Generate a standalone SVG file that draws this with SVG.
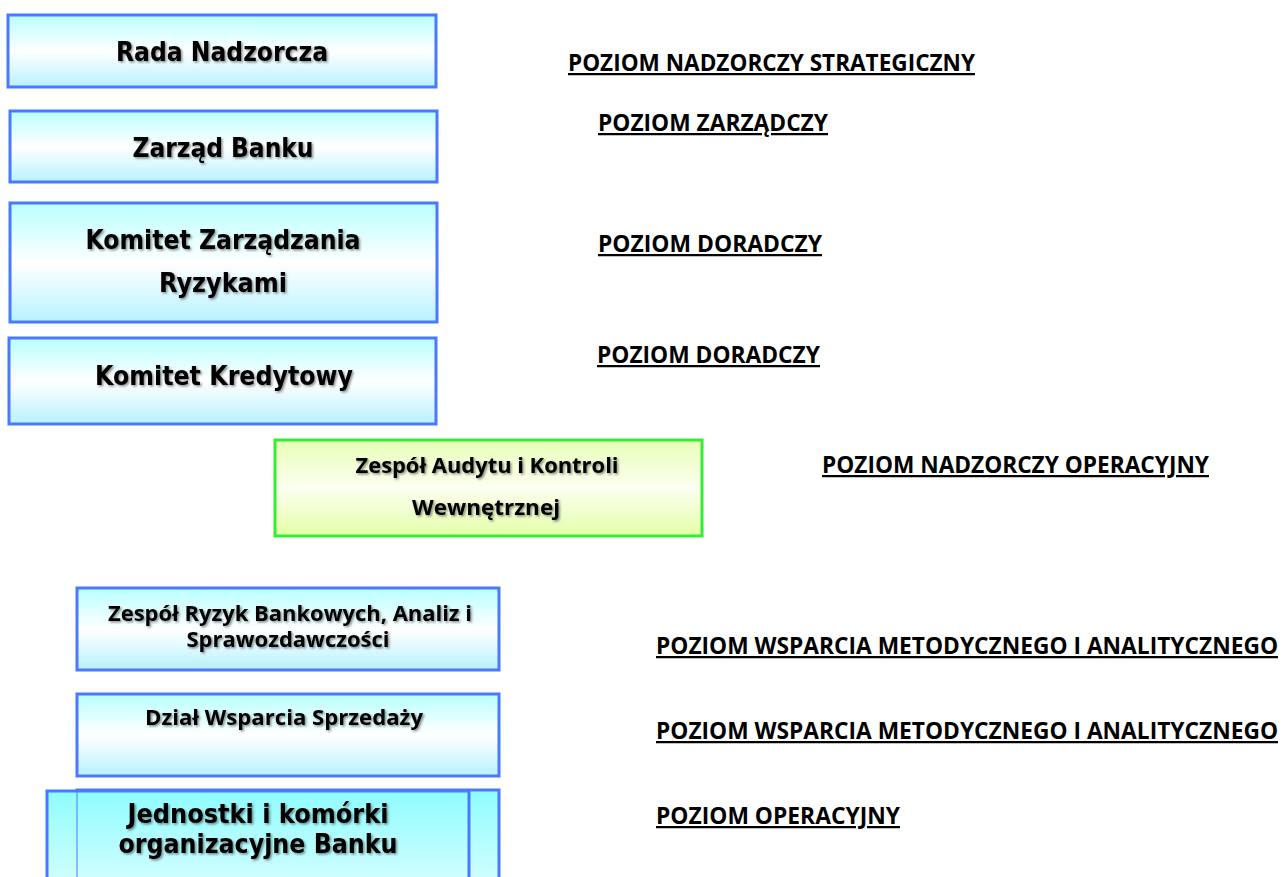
<svg xmlns="http://www.w3.org/2000/svg" width="1282" height="877" viewBox="0 0 1282 877">
<defs>
<linearGradient id="gb" x1="0" y1="0" x2="0" y2="1">
<stop offset="0" stop-color="#b8ffff"/>
<stop offset="0.5" stop-color="#ffffff"/>
<stop offset="1" stop-color="#b8f2ff"/>
</linearGradient>
<linearGradient id="gj" x1="0" y1="0" x2="0" y2="1">
<stop offset="0" stop-color="#8ffcff"/>
<stop offset="1" stop-color="#d8feff"/>
</linearGradient>
<linearGradient id="gg" x1="0" y1="0" x2="0" y2="1">
<stop offset="0" stop-color="#e8ffb8"/>
<stop offset="0.5" stop-color="#fcfff0"/>
<stop offset="1" stop-color="#e4ffa8"/>
</linearGradient>
<filter id="sh" x="-5%" y="-20%" width="110%" height="150%">
<feDropShadow dx="1.5" dy="1.5" stdDeviation="1" flood-color="#000" flood-opacity="0.45"/>
</filter>
</defs>
<style>
.bx{fill:url(#gb);stroke:#4a78ff;stroke-width:3}
.t1{font-family:"DejaVu Sans",Verdana,sans-serif;font-weight:bold;fill:#000;text-anchor:middle;font-size:26px}
.t2{font-family:"Open Sans","Liberation Sans",sans-serif;font-weight:bold;fill:#000;text-anchor:middle;font-size:21.5px}
.t3{font-family:"Open Sans","Liberation Sans",sans-serif;font-weight:bold;fill:#000;text-anchor:middle;font-size:22px}
.lb{font-family:"Open Sans","Liberation Sans",sans-serif;font-weight:bold;font-size:22.5px;fill:#000;text-decoration:underline}
</style>
<rect width="1282" height="877" fill="#fff"/>
<g id="n1">
<rect class="bx" x="8" y="15" width="428" height="72"/>
<text class="t1" x="222" y="61" textLength="212" lengthAdjust="spacingAndGlyphs" filter="url(#sh)">Rada Nadzorcza</text>
</g>
<g id="n2">
<rect class="bx" x="10" y="111" width="427" height="71"/>
<text class="t1" x="223" y="157" textLength="181" lengthAdjust="spacingAndGlyphs" filter="url(#sh)">Zarząd Banku</text>
</g>
<g id="n3">
<rect class="bx" x="10" y="203" width="427" height="119"/>
<text class="t1" x="223" y="249" textLength="275" lengthAdjust="spacingAndGlyphs" filter="url(#sh)">Komitet Zarządzania</text>
<text class="t1" x="223" y="292" textLength="128" lengthAdjust="spacingAndGlyphs" filter="url(#sh)">Ryzykami</text>
</g>
<g id="n4">
<rect class="bx" x="9" y="338" width="427" height="86"/>
<text class="t1" x="224" y="385" textLength="258" lengthAdjust="spacingAndGlyphs" filter="url(#sh)">Komitet Kredytowy</text>
</g>
<g id="n5">
<rect x="275" y="440" width="427" height="96" fill="url(#gg)" stroke="#33ee33" stroke-width="3"/>
<text class="t3" x="487" y="473" textLength="263" lengthAdjust="spacingAndGlyphs" filter="url(#sh)">Zespół Audytu i Kontroli</text>
<text class="t3" x="486" y="515" textLength="148" lengthAdjust="spacingAndGlyphs" filter="url(#sh)">Wewnętrznej</text>
</g>
<g id="n6">
<rect class="bx" x="77" y="588" width="422" height="82"/>
<text class="t2" x="290" y="621" textLength="364" lengthAdjust="spacingAndGlyphs" filter="url(#sh)">Zespół Ryzyk Bankowych, Analiz i</text>
<text class="t2" x="288" y="647" textLength="203" lengthAdjust="spacingAndGlyphs" filter="url(#sh)">Sprawozdawczości</text>
</g>
<g id="n7">
<rect class="bx" x="77" y="694" width="422" height="82"/>
<text class="t2" x="284" y="725" textLength="278" lengthAdjust="spacingAndGlyphs" filter="url(#sh)">Dział Wsparcia Sprzedaży</text>
</g>
<g id="n8">
<rect x="77" y="790" width="422" height="100" fill="url(#gj)" stroke="#4a78ff" stroke-width="3"/>
<rect x="47" y="791" width="422" height="100" fill="url(#gj)" stroke="#4a78ff" stroke-width="3"/>
<line x1="77" y1="792" x2="77" y2="877" stroke="#4a78ff" stroke-width="1"/>
<text class="t1" x="258" y="823" textLength="261" lengthAdjust="spacingAndGlyphs" filter="url(#sh)">Jednostki i komórki</text>
<text class="t1" x="258" y="853" textLength="279" lengthAdjust="spacingAndGlyphs" filter="url(#sh)">organizacyjne Banku</text>
</g>
<g id="labels">
<text class="lb" x="568" y="71" textLength="407" lengthAdjust="spacingAndGlyphs">POZIOM NADZORCZY STRATEGICZNY</text>
<text class="lb" x="598" y="131" textLength="230" lengthAdjust="spacingAndGlyphs">POZIOM ZARZĄDCZY</text>
<text class="lb" x="598" y="252" textLength="224" lengthAdjust="spacingAndGlyphs">POZIOM DORADCZY</text>
<text class="lb" x="597" y="363" textLength="223" lengthAdjust="spacingAndGlyphs">POZIOM DORADCZY</text>
<text class="lb" x="822" y="473" textLength="387" lengthAdjust="spacingAndGlyphs">POZIOM NADZORCZY OPERACYJNY</text>
<text class="lb" x="656" y="654" textLength="622" lengthAdjust="spacingAndGlyphs">POZIOM WSPARCIA METODYCZNEGO I ANALITYCZNEGO</text>
<text class="lb" x="656" y="739" textLength="622" lengthAdjust="spacingAndGlyphs">POZIOM WSPARCIA METODYCZNEGO I ANALITYCZNEGO</text>
<text class="lb" x="656" y="824" textLength="244" lengthAdjust="spacingAndGlyphs">POZIOM OPERACYJNY</text>
</g>
<g id="connectors"/>
</svg>
